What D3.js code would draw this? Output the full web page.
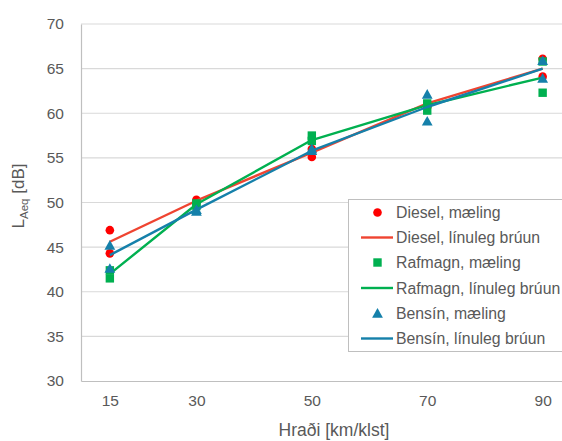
<!DOCTYPE html>
<html>
<head>
<meta charset="utf-8">
<script src="https://cdn.jsdelivr.net/npm/d3@7/dist/d3.min.js"></script>
<style>
  html, body { margin: 0; padding: 0; background: #fff; }
  svg { display: block; font-family: "Liberation Sans", Arial, sans-serif; }
</style>
</head>
<body>
<svg id="chart" width="562" height="441"></svg>
<script>
// Speed categories (km/klst) and y ticks (dB)
const speedTicks = [15, 30, 50, 70, 90];
const levelTicks = [30, 35, 40, 45, 50, 55, 60, 65, 70];

// Measurements: speed and L_Aeq for each vehicle type
const dieselSpeed = [15, 15, 30, 30, 50, 50, 70, 70, 90, 90];
const dieselLevel = [46.9, 44.3, 50.3, 50.0, 56.0, 55.1, 61.0, 60.7, 66.1, 64.1];
const rafmagnSpeed = [15, 15, 30, 30, 50, 50, 70, 70, 90, 90];
const rafmagnLevel = [42.4, 41.5, 49.9, 49.6, 57.5, 56.9, 61.1, 60.3, 65.8, 62.3];
const bensinSpeed = [15, 15, 30, 30, 50, 50, 70, 70, 90, 90];
const bensinLevel = [45.2, 42.6, 49.2, 49.0, 56.0, 55.8, 62.1, 59.1, 65.9, 63.9];

// Linear fit values at each speed
const dieselFit = [45.6, 50.2, 55.6, 61.1, 65.0];
const rafmagnFit = [42.0, 49.8, 57.0, 60.9, 64.0];
const bensinFit = [44.1, 49.2, 55.8, 60.7, 65.0];

const series = [
  { name: "Diesel", xs: dieselSpeed, ys: dieselLevel, fit: dieselFit, dot: "#ff0000", line: "#ef4431", shape: "circle" },
  { name: "Rafmagn", xs: rafmagnSpeed, ys: rafmagnLevel, fit: rafmagnFit, dot: "#00b050", line: "#00b050", shape: "square" },
  { name: "Bensín", xs: bensinSpeed, ys: bensinLevel, fit: bensinFit, dot: "#1580aa", line: "#1580aa", shape: "triangle" }
];

const svg = d3.select("#chart");
const textColor = "#595959";

const x = d3.scaleLinear().domain([10, 95]).range([81, 571.5]);
const y = d3.scaleLinear().domain([30, 70]).range([381, 24]);

// Horizontal gridlines
svg.append("g")
  .selectAll("line")
  .data(levelTicks.filter(d => d > 30))
  .join("line")
  .attr("x1", 81).attr("x2", 562)
  .attr("y1", d => y(d)).attr("y2", d => y(d))
  .attr("stroke", "#d9d9d9").attr("stroke-width", 1.2);

// Axes
const yAxis = svg.append("g").attr("transform", "translate(81,0)")
  .call(d3.axisLeft(y).tickValues(levelTicks).tickSize(0).tickPadding(17));
const xAxis = svg.append("g").attr("transform", "translate(0,381)")
  .call(d3.axisBottom(x).tickValues(speedTicks).tickSize(0).tickPadding(14));
[yAxis, xAxis].forEach(g => {
  g.select(".domain").attr("stroke", "#bfbfbf").attr("stroke-width", 1.2);
  g.selectAll("text").attr("fill", textColor).attr("font-size", 15.5)
    .attr("font-family", "Liberation Sans, Arial, sans-serif");
});

// Axis titles
svg.append("text")
  .attr("x", 334).attr("y", 436)
  .attr("text-anchor", "middle")
  .attr("fill", textColor).attr("font-size", 17.5)
  .text("Hraði [km/klst]");

const yTitle = svg.append("text")
  .attr("transform", "translate(24,196) rotate(-90)")
  .attr("text-anchor", "middle")
  .attr("fill", textColor).attr("font-size", 17);
yTitle.append("tspan").text("L");
yTitle.append("tspan").attr("font-size", 11.5).attr("dy", 4).text("Aeq");
yTitle.append("tspan").attr("dy", -4).text(" [dB]");

// Marker shapes
function drawMarker(g, shape, cx, cy, color) {
  if (shape === "circle") {
    g.append("circle").attr("cx", cx).attr("cy", cy).attr("r", 4.3).attr("fill", color);
  } else if (shape === "square") {
    g.append("rect").attr("x", cx - 4.2).attr("y", cy - 4.2)
      .attr("width", 8.4).attr("height", 8.4).attr("fill", color);
  } else {
    const s = 5.4;
    g.append("path")
      .attr("d", `M${cx},${cy - s}L${cx + s},${cy + s * 0.8}L${cx - s},${cy + s * 0.8}Z`)
      .attr("fill", color);
  }
}

const lineGen = d3.line().x(d => x(d[0])).y(d => y(d[1]));
const plot = svg.append("g");

series.forEach(s => {
  const g = plot.append("g");
  s.xs.forEach((sx, i) => drawMarker(g, s.shape, x(sx), y(s.ys[i]), s.dot));
  g.append("path")
    .datum(speedTicks.map((sp, i) => [sp, s.fit[i]]))
    .attr("d", lineGen)
    .attr("fill", "none")
    .attr("stroke", s.line)
    .attr("stroke-width", 2.4)
    .attr("stroke-linejoin", "round");
});

// Legend
const legend = svg.append("g");
legend.append("rect")
  .attr("x", 348.5).attr("y", 199.5).attr("width", 230).attr("height", 152)
  .attr("fill", "#fff").attr("stroke", "#bfbfbf").attr("stroke-width", 1);

const rowY = [212.5, 237.5, 262.5, 288, 313.5, 338.5];
series.forEach((s, i) => {
  const y1 = rowY[i * 2];
  const y2 = rowY[i * 2 + 1];
  drawMarker(legend, s.shape, 377.5, y1, s.dot);
  legend.append("line")
    .attr("x1", 361).attr("x2", 393).attr("y1", y2).attr("y2", y2)
    .attr("stroke", s.line).attr("stroke-width", 2.4);
  legend.append("text").attr("x", 396).attr("y", y1 + 5.5)
    .attr("fill", textColor).attr("font-size", 15.8).text(`${s.name}, mæling`);
  legend.append("text").attr("x", 396).attr("y", y2 + 5.5)
    .attr("fill", textColor).attr("font-size", 15.8).text(`${s.name}, línuleg brúun`);
});
</script>
</body>
</html>
